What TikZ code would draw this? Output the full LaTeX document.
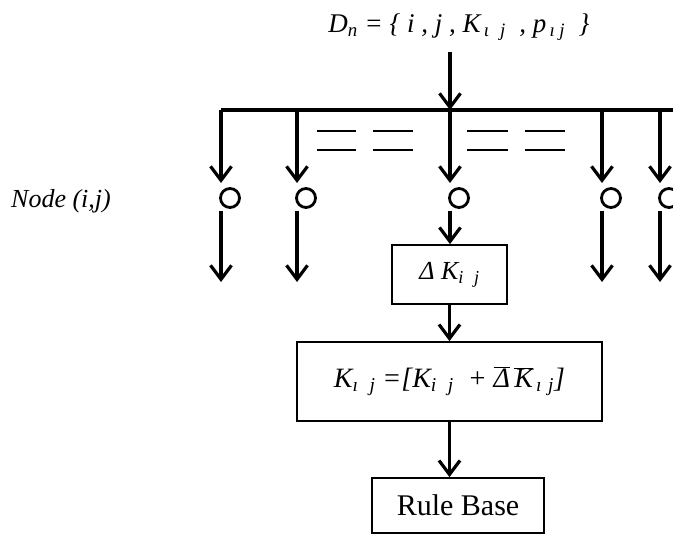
\documentclass[tikz,border=0pt]{standalone}
\usepackage{fontspec}
\setmainfont{Liberation Serif}
\usetikzlibrary{arrows.meta,calc}
\newcommand{\sbs}[1]{\textsubscript{#1}}
\tikzset{
  conn/.style={line width=3.2pt},
  arr/.style={conn, -{Straight Barb[length=14pt,width=21pt,line width=3.2pt]}},
  box/.style={draw, line width=1.7pt, inner sep=0pt},
  ring/.style={draw, circle, line width=2.8pt, minimum size=19pt, inner sep=0pt},
  dashln/.style={line width=2.2pt},
  lbl/.style={font=\fontsize{27}{30}\selectfont\itshape, inner sep=0pt},
}
\begin{document}
\begin{tikzpicture}[x=1pt,y=-1pt]
\useasboundingbox (0,0) rectangle (673,535);
% title
\node[lbl] (dn) at (459,27) {D\sbs{n} = \{ i , j , K\sbs{\,ι\,\, j}\ \ , p\sbs{\,ı j}\ \ \}};
\coordinate (t0) at (450,52);
% bar
\coordinate (b1) at (221,110);
\coordinate (b2) at (297,110);
\coordinate (b3) at (450,110);
\coordinate (b4) at (602,110);
\coordinate (b5) at (660,110);
\coordinate (bR) at (675,110);
\draw[arr] (t0) -- (b3);
\draw[conn] (b1) -- (bR);
% arrow tips above circles
\foreach \i in {1,...,5}{
  \coordinate (a\i) at ($(b\i)+(0,73)$);
  \draw[arr] (b\i) -- (a\i);
}
% circles
\node[ring] (c1) at (230,198) {};
\node[ring] (c2) at (306,198) {};
\node[ring] (c3) at (459,198) {};
\node[ring] (c4) at (611,198) {};
\node[ring] (c5) at (669,198) {};
% dashes
\foreach \y in {131,150}{
  \draw[dashln] (317,\y) -- (356,\y);
  \draw[dashln] (373,\y) -- (413,\y);
  \draw[dashln] (467,\y) -- (508,\y);
  \draw[dashln] (525,\y) -- (565,\y);
}
% boxes
\node[box, minimum width=115pt, minimum height=59pt] (dk) at (449.5,274.5)
  {\fontsize{26}{28}\selectfont\itshape Δ K\sbs{i\,\, j}};
\node[box, minimum width=305pt, minimum height=79pt] (kb) at (449.5,381.5)
  {\fontsize{28}{32}\selectfont\itshape K\sbs{ı\,\, j} =[K\sbs{i\,\, j}\ \ + $\overline{\hbox{Δ}}\,\overline{\hbox{K}}$\sbs{\,ı\,\,j}]};
\node[box, minimum width=172pt, minimum height=55pt] (rb) at (458,505.5)
  {\fontsize{30}{34}\selectfont Rule Base};
% node label
\node[lbl, font=\fontsize{26}{30}\selectfont\itshape] (nl) at (61,201) {Node (i,j)};
% lower lines
\coordinate (l1) at (221,211); \coordinate (e1) at (221,282);
\coordinate (l2) at (297,211); \coordinate (e2) at (297,282);
\coordinate (l3) at (450,211);
\coordinate (l4) at (602,211); \coordinate (e4) at (602,282);
\coordinate (l5) at (660,211); \coordinate (e5) at (660,282);
\foreach \i in {1,2,4,5}{ \draw[arr] (l\i) -- (e\i); }
\draw[arr] (l3) -- (l3 |- dk.north);
\draw[arr] (dk.south) -- (kb.north);
\draw[arr] (kb.south) -- (kb.south |- rb.north);
\end{tikzpicture}
\end{document}
